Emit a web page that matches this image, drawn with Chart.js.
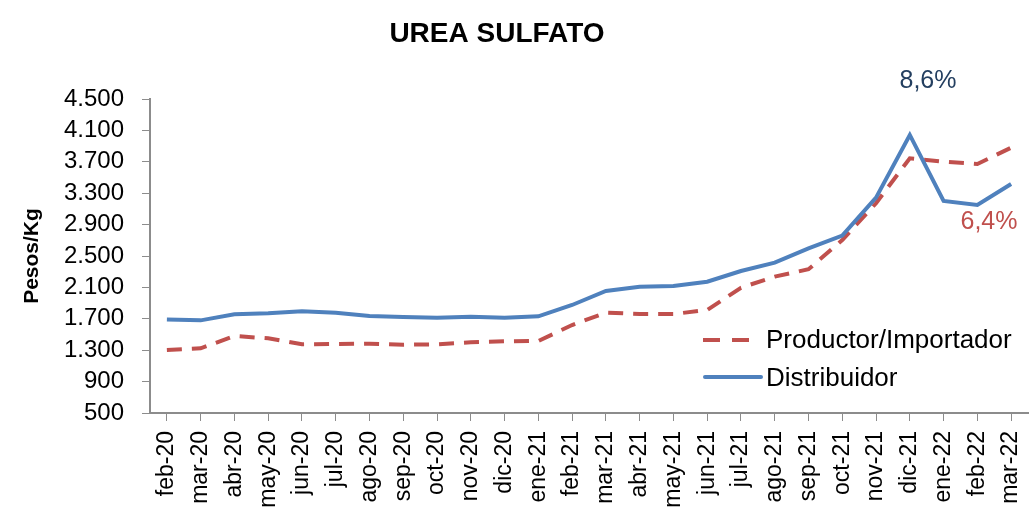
<!DOCTYPE html>
<html>
<head>
<meta charset="utf-8">
<title>Urea sulfato</title>
<script src="https://cdn.jsdelivr.net/npm/chart.js@4.4.1/dist/chart.umd.min.js"></script>
<style>
  body { margin: 0; background: #fff; }
  canvas { display: block; }
</style>
</head>
<body>
<canvas id="ureaChart" width="1035" height="512"></canvas>
<script>
// Months on the x axis
const months = ['feb-20', 'mar-20', 'abr-20', 'may-20', 'jun-20', 'jul-20', 'ago-20', 'sep-20',
    'oct-20', 'nov-20', 'dic-20', 'ene-21', 'feb-21', 'mar-21', 'abr-21', 'may-21', 'jun-21',
    'jul-21', 'ago-21', 'sep-21', 'oct-21', 'nov-21', 'dic-21', 'ene-22', 'feb-22', 'mar-22'];

// Pesos/Kg
const productor = [1303, 1324, 1481, 1451, 1375, 1379, 1383, 1370, 1375, 1400, 1413, 1417, 1621,
    1778, 1761, 1761, 1812, 2096, 2237, 2331, 2704, 3172, 3745, 3702, 3672, 3880];
const distribuidor = [1690, 1680, 1757, 1770, 1796, 1778, 1736, 1723, 1714, 1727, 1714, 1732, 1876,
    2054, 2109, 2118, 2173, 2309, 2415, 2598, 2759, 3243, 4042, 3201, 3150, 3417];

const yMin = 500;
const yMax = 4500;
const yStep = 400;

const RED = '#C0504D';
const BLUE = '#4F81BD';
const AXIS = '#8C8C8C';
const FONT = '"Liberation Sans", Arial, sans-serif';

// 4500 -> "4.500"
function formatMiles(v) {
    if (v < 1000) return String(v);
    return Math.floor(v / 1000) + '.' + String(v % 1000).padStart(3, '0');
}

// title, legend and the two percentage notes
const extrasPlugin = {
    id: 'extras',
    afterDraw(chart) {
        const ctx = chart.ctx;
        ctx.save();

        ctx.fillStyle = '#000';
        ctx.font = 'bold 28px ' + FONT;
        ctx.textAlign = 'center';
        ctx.textBaseline = 'middle';
        ctx.fillText('UREA SULFATO', 497, 34);

        ctx.lineCap = 'butt';
        ctx.lineWidth = 4;
        ctx.strokeStyle = RED;
        ctx.setLineDash([17, 12]);
        ctx.beginPath();
        ctx.moveTo(703, 340);
        ctx.lineTo(750, 340);
        ctx.stroke();

        ctx.strokeStyle = BLUE;
        ctx.setLineDash([]);
        ctx.lineCap = 'round';
        ctx.beginPath();
        ctx.moveTo(705, 377);
        ctx.lineTo(761, 377);
        ctx.stroke();

        ctx.font = '26px ' + FONT;
        ctx.textAlign = 'left';
        ctx.fillText('Productor/Importador', 766, 341);
        ctx.fillText('Distribuidor', 766, 379);

        ctx.textAlign = 'center';
        ctx.font = '25px ' + FONT;
        ctx.fillStyle = '#243F60';
        ctx.fillText('8,6%', 928, 81);
        ctx.fillStyle = RED;
        ctx.fillText('6,4%', 989, 222);
        ctx.restore();
    }
};

const ctx = document.getElementById('ureaChart').getContext('2d');
const ureaChart = new Chart(ctx, {
    type: 'line',
    data: {
        labels: months,
        datasets: [{
            label: 'Productor/Importador',
            data: productor,
            borderColor: RED,
            borderWidth: 4,
            borderDash: [15, 10],
            pointRadius: 0,
            tension: 0,
            order: 1
        }, {
            label: 'Distribuidor',
            data: distribuidor,
            borderColor: BLUE,
            borderWidth: 4,
            pointRadius: 0,
            tension: 0,
            order: 0
        }]
    },
    options: {
        responsive: false,
        animation: false,
        layout: {
            padding: { left: 0, right: 7, top: 99, bottom: 0 }
        },
        scales: {
            x: {
                offset: true,
                afterFit: (scale) => {
                    scale.height = 99;
                    scale.paddingLeft = 0;
                    scale.paddingRight = 0;
                },
                grid: {
                    display: true,
                    drawOnChartArea: false,
                    drawTicks: true,
                    tickLength: 8,
                    color: AXIS
                },
                border: { display: true, color: AXIS, width: 2 },
                ticks: {
                    autoSkip: false,
                    minRotation: 90,
                    maxRotation: 90,
                    padding: 10,
                    color: '#000',
                    font: { family: FONT, size: 23 }
                }
            },
            y: {
                min: yMin,
                max: yMax,
                afterFit: (scale) => { scale.width = 150; },
                grid: {
                    display: true,
                    drawOnChartArea: false,
                    drawTicks: true,
                    tickLength: 8,
                    color: AXIS
                },
                border: { display: true, color: AXIS, width: 2 },
                ticks: {
                    autoSkip: false,
                    stepSize: yStep,
                    padding: 18,
                    color: '#000',
                    font: { family: FONT, size: 24 },
                    callback: (value) => formatMiles(value)
                },
                title: {
                    display: true,
                    text: 'Pesos/Kg',
                    color: '#000',
                    padding: { top: 20, bottom: 0 },
                    font: { family: FONT, size: 21, weight: 'bold' }
                }
            }
        },
        plugins: {
            legend: { display: false },
            tooltip: { enabled: false },
            title: { display: false }
        }
    },
    plugins: [extrasPlugin]
});
</script>
</body>
</html>
